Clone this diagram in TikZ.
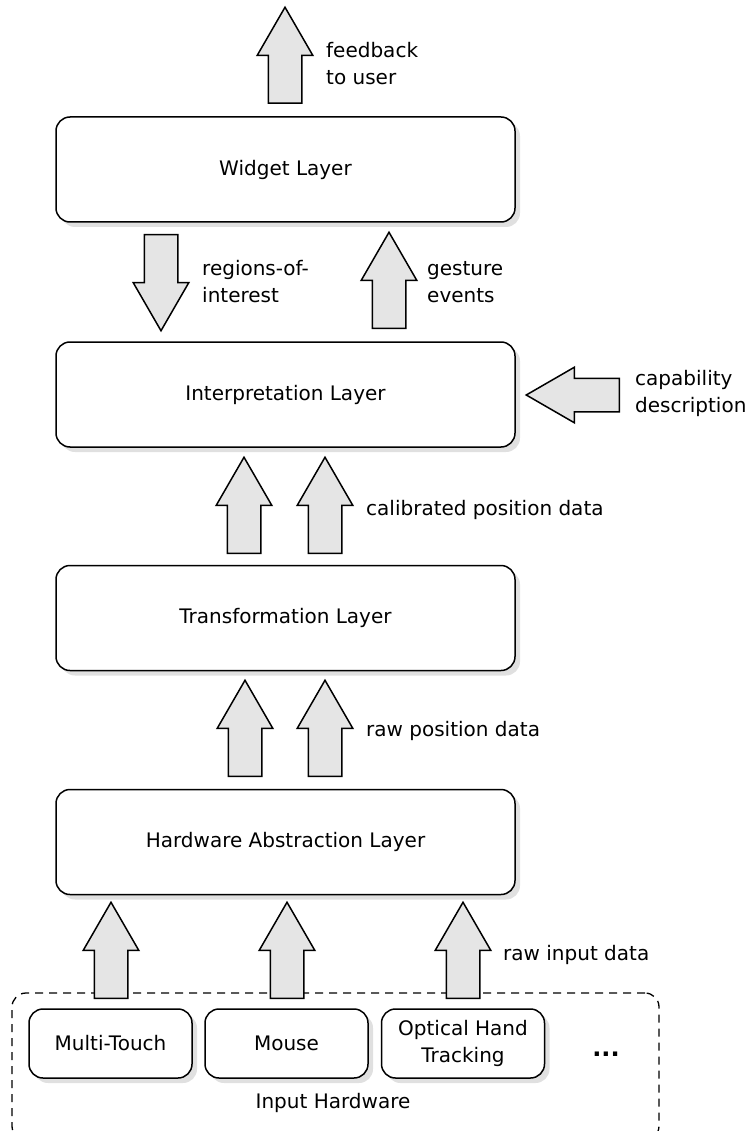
\documentclass[tikz,border=0pt]{standalone}
\usepackage{fontspec}
\setmainfont{DejaVu Sans}
\usetikzlibrary{shapes.arrows,shadows,positioning}

\tikzset{
  layer/.style={draw, line width=1.5pt, rounded corners=14pt, fill=white, align=center,
    minimum width=459pt, minimum height=105pt,
    drop shadow={shadow xshift=5pt, shadow yshift=-5pt, fill=black!12, opacity=1}},
  device/.style={layer, minimum width=163pt, minimum height=69pt},
  blockarrow/.style={single arrow, draw, line width=1.5pt, fill=black!10, anchor=tail,
    minimum height=96pt, inner xsep=0pt, inner ysep=16pt, single arrow head extend=11pt,
    single arrow tip angle=60, single arrow head indent=0pt},
  blockup/.style={blockarrow, rotate=90},
  blockdown/.style={blockarrow, rotate=-90},
  blockleft/.style={blockarrow, rotate=180},
  note/.style={anchor=west, align=left, inner sep=0pt}
}

\begin{document}
\begin{tikzpicture}[x=1pt, y=-1pt, font=\fontsize{20}{27}\selectfont]
  \useasboundingbox (0,0) rectangle (750,1131);

  % Input hardware
  \node (hwgroup) [draw, dash pattern=on 8pt off 6pt, line width=1.3pt, rounded corners=14pt,
    minimum width=647pt, minimum height=147pt] at (335.5,1066.5) {};
  \node (touch) [device] at (110.5,1043.5) {Multi-Touch};
  \node (mouse) [device] at (286.5,1043.5) {Mouse};
  \node (optical) [device] at (463,1043.5) {Optical Hand\\Tracking};
  \node (more) [anchor=base, inner sep=0pt, font=\fontsize{24}{24}\selectfont\bfseries] at (606,1056) {...};
  \node (inhw) at (333,1103) {Input Hardware};

  % Layers
  \node (widget) [layer] at (285.5,169.5) {Widget Layer};
  \node (interp) [layer] at (285.5,394.5) {Interpretation Layer};
  \node (trans) [layer] at (285.5,618) {Transformation Layer};
  \node (hal) [layer] at (285.5,842) {Hardware Abstraction Layer};

  % Block arrows between the layers
  \node (feedback) [blockup] at (285,104) {};
  \node (roi) [blockdown] at (161,234) {};
  \node (gesture) [blockup] at (389,329) {};
  \node (capab) [blockleft, minimum height=93pt] at (620,395) {};
  \node (calA) [blockup] at (244,554) {};
  \node (calB) [blockup] at (325,554) {};
  \node (rawA) [blockup] at (245,777) {};
  \node (rawB) [blockup] at (325,777) {};
  \node (inA) [blockup] at (111,999) {};
  \node (inB) [blockup] at (287,999) {};
  \node (inC) [blockup] at (463,999) {};

  % Labels
  \node (feedbacklbl) [note] at (326,63.5) {feedback\\to user};
  \node (roilbl) [note] at (202,282) {regions-of-\\interest};
  \node (gesturelbl) [note] at (427,282) {gesture\\events};
  \node (capablbl) [note] at (635,393.5) {capability\\description};
  \node (callbl) [note] at (366,510) {calibrated position data};
  \node (rawlbl) [note] at (366,731) {raw position data};
  \node (inlbl) [note] at (503,955) {raw input data};
\end{tikzpicture}
\end{document}
